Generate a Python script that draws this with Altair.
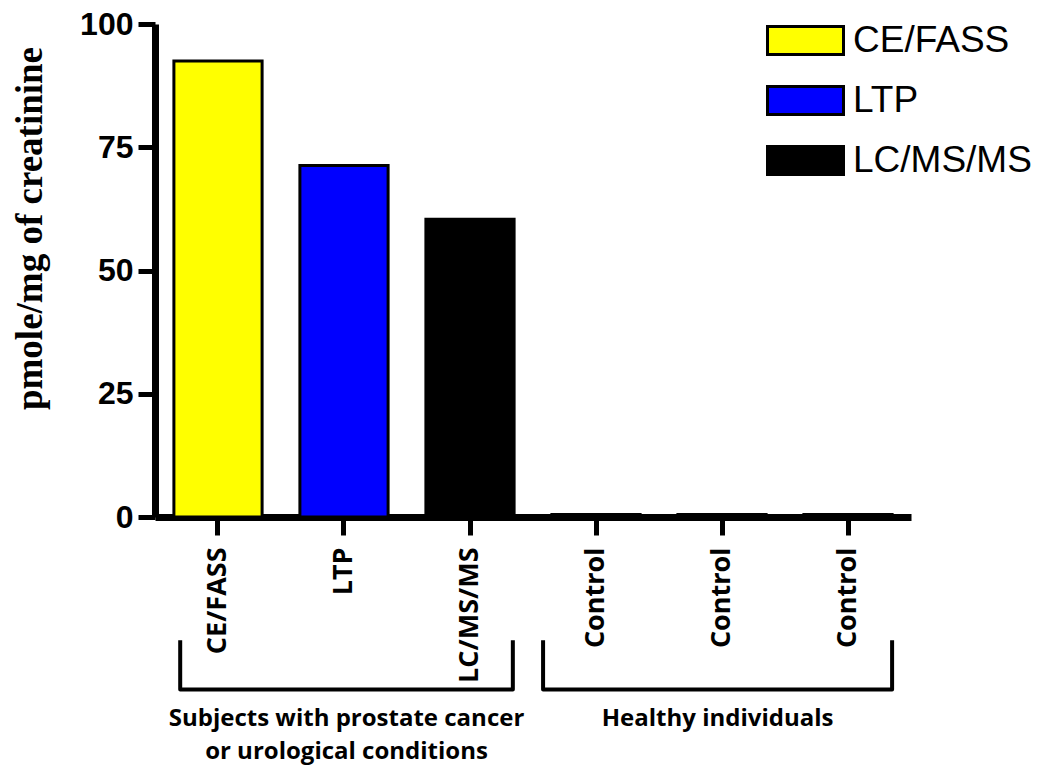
import altair as alt
import pandas as pd

# ---- data ----
categories = ["CE/FASS", "LTP", "LC/MS/MS", "Control 1", "Control 2", "Control 3"]
methods = ["CE/FASS", "LTP", "LC/MS/MS", "Control", "Control", "Control"]
values = [92.5, 71.3, 60.4, 0.5, 0.5, 0.5]
legend_methods = ["CE/FASS", "LTP", "LC/MS/MS"]
method_colors = ["#FFFF00", "#0000FF", "#000000", "#000000"]
y_ticks = [0, 25, 50, 75, 100]

group_lines = [["Subjects with prostate cancer", "or urological conditions"],
               ["Healthy individuals"]]
# group spans in category-step units (0 = left edge of first band, 6 = right edge of last)
group_start = [0.2, 3.08]
group_end = [2.84, 5.85]

# ---- styling constants ----
BR_TOP, BR_BOT = -25, -35       # bracket depth (in y units, below axis)
TXT_Y0, TXT_DY = -42.4, -6.6    # group label baselines
N = len(categories)

df = pd.DataFrame({"cat": categories, "method": methods, "value": values})

br_rows = []
txt_rows = []
for g, (s, e) in enumerate(zip(group_start, group_end)):
    for i, (xx, yy) in enumerate([(s, BR_TOP), (s, BR_BOT), (e, BR_BOT), (e, BR_TOP)]):
        br_rows.append({"g": g, "i": i, "x": xx, "y": yy})
    for j, line in enumerate(group_lines[g]):
        txt_rows.append({"x": (s + e) / 2, "y": TXT_Y0 + j * TXT_DY, "t": line})
br_df = pd.DataFrame(br_rows)
txt_df = pd.DataFrame(txt_rows)

rect_path = "M-1,-0.368L1,-0.368L1,0.368L-1,0.368Z"

bars = alt.Chart(df).mark_bar(stroke="black", strokeWidth=3).encode(
    x=alt.X("cat:N", sort=categories,
            scale=alt.Scale(paddingInner=0.3, paddingOuter=0.15),
            axis=alt.Axis(title=None, labelExpr="split(datum.label, ' ')[0]",
                          labelAngle=-90, labelFont="Open Sans", labelFontWeight="bold",
                          labelFontSize=27, labelColor="black", labelPadding=12,
                          tickSize=18, tickWidth=5, tickColor="black",
                          domainColor="black", domainWidth=7)),
    y=alt.Y("value:Q", scale=alt.Scale(domain=[0, 100], nice=False),
            axis=alt.Axis(values=y_ticks, title="pmole/mg of creatinine",
                          titleFont="Liberation Serif", titleFontSize=37,
                          titleFontWeight="bold", titleColor="black",
                          titleX=-114, titleY=204, titleAngle=270,
                          titleAlign="center", titleBaseline="alphabetic",
                          labelFont="Liberation Sans", labelFontWeight="bold",
                          labelFontSize=32, labelColor="black", labelPadding=5,
                          labelFlush=False,
                          tickSize=17, tickWidth=5, tickColor="black",
                          domainColor="black", domainWidth=7, grid=False)),
    color=alt.Color("method:N",
                    scale=alt.Scale(domain=legend_methods + ["Control"], range=method_colors),
                    legend=alt.Legend(values=legend_methods, title=None, orient="none",
                                      legendX=611, legendY=-23,
                                      symbolType=rect_path, symbolSize=5776,
                                      symbolStrokeColor="black", symbolStrokeWidth=3,
                                      symbolOpacity=1,
                                      labelFont="Liberation Sans", labelFontSize=37,
                                      labelColor="black", labelOffset=8,
                                      rowPadding=-22, labelLimit=400)),
)

xq = alt.X("x:Q", scale=alt.Scale(domain=[0, N], nice=False, zero=False), axis=None)
yq_br = alt.Y("y:Q", scale=alt.Scale(domain=[0, 100], nice=False), axis=None)

brackets = alt.Chart(br_df).mark_line(color="black", strokeWidth=4, strokeJoin="round").encode(
    x=xq, y=yq_br, detail="g:N", order="i:O"
)

texts = alt.Chart(txt_df).mark_text(font="Open Sans", fontWeight="bold", fontSize=24,
                                    baseline="alphabetic", align="center", color="black").encode(
    x=xq, y=yq_br, text="t:N"
)

chart = alt.layer(bars, brackets, texts).resolve_scale(
    x="independent", y="independent", color="independent"
).properties(
    width=756, height=493,
    autosize=alt.AutoSizeParams(type="none"),
    padding={"left": 147, "top": 16, "right": 131, "bottom": 250},
    background="white",
).configure_view(stroke=None)

chart.save("out.html", embed_options={"renderer": "svg", "actions": False})
